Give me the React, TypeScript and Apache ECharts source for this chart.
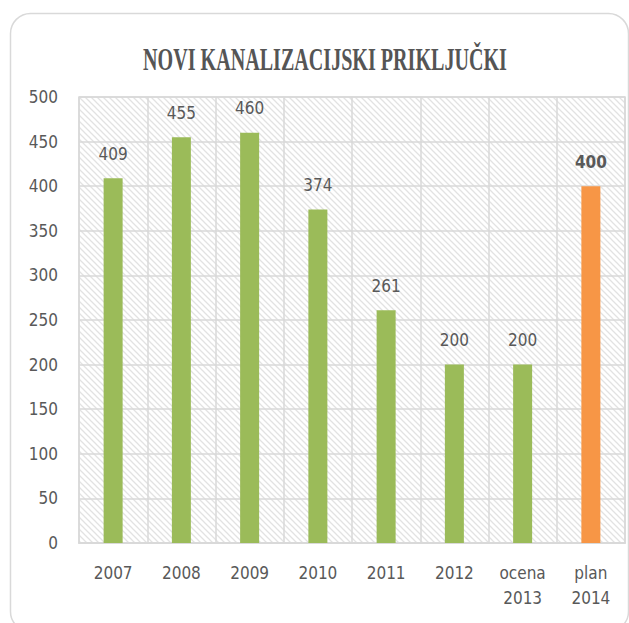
import React, { useEffect, useRef } from "react";
import * as echarts from "echarts";

const titleText = "NOVI KANALIZACIJSKI PRIKLJUČKI";
const categories = ["2007", "2008", "2009", "2010", "2011", "2012", "ocena\n2013", "plan\n2014"];
const values = [409, 455, 460, 374, 261, 200, 200, 400];
const highlightIndex = 7;
const yMin = 0;
const yMax = 500;
const yInterval = 50;

const GREEN = "#9BBB59";
const ORANGE = "#F79646";
const TEXT = "#595959";
const GRID = "#d9d9d9";
const FONT = '"Liberation Sans Narrow", "DejaVu Sans Condensed", sans-serif';
const FS = 17;

function makeHatch(): HTMLCanvasElement {
  const s = 6;
  const c = document.createElement("canvas");
  c.width = s;
  c.height = s;
  const ctx = c.getContext("2d")!;
  ctx.fillStyle = "#ffffff";
  ctx.fillRect(0, 0, s, s);
  ctx.strokeStyle = "#e2e2e2";
  ctx.lineWidth = 1.3;
  ctx.beginPath();
  ctx.moveTo(-1, -1);
  ctx.lineTo(s + 1, s + 1);
  ctx.moveTo(-1, s - 1);
  ctx.lineTo(1, s + 1);
  ctx.moveTo(s - 1, -1);
  ctx.lineTo(s + 1, 1);
  ctx.stroke();
  return c;
}

export default function App() {
  const ref = useRef<HTMLDivElement>(null);
  useEffect(() => {
    if (!ref.current) return;
    const chart = echarts.init(ref.current, undefined, { renderer: "svg" });
    const titleFont = 'bold 32px "Liberation Serif", "DejaVu Serif", serif';
    const mc = document.createElement("canvas").getContext("2d")!;
    mc.font = titleFont;
    const tw = mc.measureText(titleText).width || 500;
    const titleScale = 364 / tw;

    chart.setOption({
      animation: false,
      backgroundColor: "#ffffff",
      grid: {
        left: 79,
        top: 97,
        width: 546,
        height: 446,
        show: true,
        backgroundColor: { image: makeHatch(), repeat: "repeat" },
        borderColor: GRID,
        borderWidth: 1.5,
      },
      graphic: [
        {
          type: "rect",
          shape: { x: 10.5, y: 13.5, width: 618, height: 618, r: 20 },
          style: { fill: "none", stroke: "#d9d9d9", lineWidth: 1.5 },
          silent: true,
          z: 100,
        },
        {
          type: "text",
          x: 325,
          y: 59,
          scaleX: titleScale,
          style: {
            text: titleText,
            x: 0,
            y: 0,
            align: "center",
            verticalAlign: "middle",
            font: titleFont,
            fill: "#555555",
          },
          z: 100,
        },
      ],
      xAxis: {
        type: "category",
        data: categories,
        boundaryGap: true,
        axisLine: { show: true, lineStyle: { color: GRID, width: 2 } },
        axisTick: { show: false },
        splitLine: { show: true, lineStyle: { color: GRID, width: 1.5 } },
        axisLabel: {
          color: TEXT,
          fontSize: FS,
          fontFamily: FONT,
          lineHeight: 25,
          margin: 17,
          interval: 0,
        },
      },
      yAxis: {
        type: "value",
        min: yMin,
        max: yMax,
        interval: yInterval,
        axisLine: { show: false },
        axisTick: { show: false },
        splitLine: { show: true, lineStyle: { color: GRID, width: 1.5 } },
        axisLabel: {
          color: TEXT,
          fontSize: FS,
          fontFamily: FONT,
          margin: 21,
        },
      },
      series: [
        {
          type: "bar",
          barWidth: 19,
          data: values.map((v, i) => ({
            value: v,
            itemStyle: { color: i === highlightIndex ? ORANGE : GREEN },
            label: {
              fontWeight: i === highlightIndex ? "bold" : "normal",
            },
          })),
          label: {
            show: true,
            position: "top",
            distance: 15,
            color: TEXT,
            fontSize: FS,
            lineHeight: 19,
            fontFamily: FONT,
          },
        },
      ],
    });
    return () => chart.dispose();
  }, []);
  return (
    <div
      ref={ref}
      style={{ position: "fixed", left: 0, top: 0, width: 629, height: 623 }}
    />
  );
}
